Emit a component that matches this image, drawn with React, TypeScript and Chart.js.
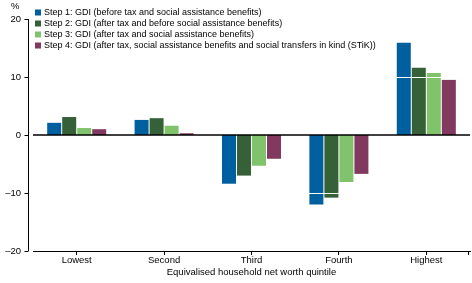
import React, { useEffect, useRef } from "react";
import { Chart, registerables } from "chart.js";

Chart.register(...registerables);

const categories = ["Lowest", "Second", "Third", "Fourth", "Highest"];
const seriesLabels = [
  "Step 1: GDI (before tax and social assistance benefits)",
  "Step 2: GDI (after tax and before social assistance benefits)",
  "Step 3: GDI (after tax and social assistance benefits)",
  "Step 4: GDI (after tax, social assistance benefits and social transfers in kind (STiK))",
];
const step1 = [2.1, 2.6, -8.4, -12.0, 15.9];
const step2 = [3.1, 2.9, -7.0, -10.8, 11.6];
const step3 = [1.2, 1.6, -5.3, -8.1, 10.7];
const step4 = [1.0, 0.3, -4.1, -6.7, 9.5];
const colors = ["#00609f", "#366138", "#80c36b", "#81395f"];
const yTicks = [-20, -10, 0, 10, 20];
const yUnit = "%";
const xTitle = "Equivalised household net worth quintile";

const FONT = "'Liberation Sans', Arial, sans-serif";
const FS = 9.5;
const LFS = 9;

const overlay = {
  id: "overlay",
  afterDatasetsDraw(chart: any) {
    const { ctx, chartArea } = chart;
    const y = chart.scales.y;
    ctx.save();
    // white grid lines over bars
    ctx.strokeStyle = "#ffffff";
    ctx.lineWidth = 1;
    [10, -10].forEach((v) => {
      const py = Math.round(y.getPixelForValue(v)) + 0.5;
      ctx.beginPath();
      ctx.moveTo(chartArea.left, py);
      ctx.lineTo(chartArea.right, py);
      ctx.stroke();
    });
    // zero line
    const zy = y.getPixelForValue(0);
    ctx.strokeStyle = "#000000";
    ctx.lineWidth = 1.5;
    ctx.beginPath();
    ctx.moveTo(chartArea.left, zy);
    ctx.lineTo(chartArea.right, zy);
    ctx.stroke();
    // y axis line offset left
    const ax = chartArea.left - 4.5;
    ctx.lineWidth = 1;
    ctx.beginPath();
    ctx.moveTo(ax, y.getPixelForValue(20));
    ctx.lineTo(ax, y.getPixelForValue(-20));
    ctx.stroke();
    yTicks.forEach((v) => {
      const py = Math.round(y.getPixelForValue(v)) + 0.5;
      ctx.beginPath();
      ctx.moveTo(ax - 4, py);
      ctx.lineTo(ax, py);
      ctx.stroke();
    });
    // x axis end tick
    const ex = chartArea.right - 1.5;
    ctx.beginPath();
    ctx.moveTo(ex, chartArea.bottom);
    ctx.lineTo(ex, chartArea.bottom + 4);
    ctx.stroke();
    // unit label
    ctx.fillStyle = "#000";
    ctx.font = `${FS}px ${FONT}`;
    ctx.textAlign = "left";
    ctx.textBaseline = "middle";
    ctx.fillText(yUnit, 11, 6);
    // legend
    ctx.font = `${LFS}px ${FONT}`;
    chart.data.datasets.forEach((ds: any, i: number) => {
      const cy = 12.5 + i * 11;
      ctx.fillStyle = ds.backgroundColor;
      ctx.fillRect(35, cy - 3, 6, 6);
      ctx.fillStyle = "#000";
      ctx.fillText(ds.label, 44, cy);
    });
    ctx.restore();
  },
};

export default function App() {
  const ref = useRef<HTMLCanvasElement>(null);
  useEffect(() => {
    if (!ref.current) return;
    const datasets = [step1, step2, step3, step4].map((d, i) => ({
      label: seriesLabels[i],
      data: d,
      backgroundColor: colors[i],
      borderWidth: 0,
      barPercentage: 0.933,
      categoryPercentage: 0.687,
    }));
    const chart = new Chart(ref.current, {
      type: "bar",
      data: { labels: categories, datasets },
      options: {
        animation: false,
        responsive: false,
        maintainAspectRatio: false,
        layout: { padding: { top: 19, right: 2, left: 0, bottom: 0 } },
        plugins: { legend: { display: false }, tooltip: { enabled: false } },
        scales: {
          x: {
            offset: true,
            grid: {
              offset: false,
              drawOnChartArea: false,
              drawTicks: true,
              tickLength: 4,
              color: "#000",
            },
            border: { display: true, color: "#000", width: 1 },
            ticks: { color: "#000", font: { family: FONT, size: FS }, padding: 0, maxRotation: 0 },
            title: {
              display: true,
              text: xTitle,
              color: "#000",
              font: { family: FONT, size: FS },
              padding: { top: 0, bottom: 5 },
            },
            afterFit(scale: any) {
              scale.height = 32;
            },
          },
          y: {
            min: -20,
            max: 20,
            afterBuildTicks(scale: any) {
              scale.ticks = yTicks.map((v) => ({ value: v }));
            },
            grid: { display: false, drawTicks: false },
            border: { display: false },
            ticks: {
              color: "#000",
              font: { family: FONT, size: FS },
              padding: 12,
              callback: (v: any) => (Number(v) < 0 ? "\u2013" + Math.abs(Number(v)) : String(v)),
            },
            afterFit(scale: any) {
              scale.width = 33;
            },
          },
        },
      },
      plugins: [overlay],
    });
    return () => chart.destroy();
  }, []);
  return (
    <div style={{ position: "absolute", left: 0, top: 0, width: 472, height: 283, background: "#fff" }}>
      <canvas ref={ref} width={472} height={283} />
    </div>
  );
}
